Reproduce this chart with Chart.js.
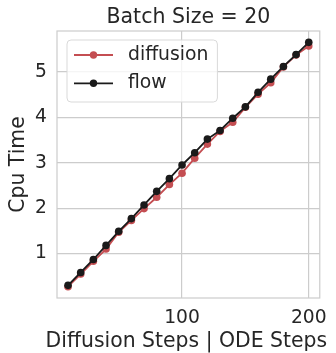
<!DOCTYPE html>
<html>
<head>
<meta charset="utf-8">
<script src="https://cdn.jsdelivr.net/npm/chart.js@4"></script>
<style>
html,body{margin:0;padding:0;background:#fff;}
#wrap{width:336px;height:353px;}
</style>
</head>
<body>
<div id="wrap"><canvas id="c" width="336" height="353"></canvas></div>
<script>
const steps = [10,20,30,40,50,60,70,80,90,100,110,120,130,140,150,160,170,180,190,200];
const diffusion = [0.27,0.55,0.83,1.10,1.47,1.73,1.99,2.24,2.52,2.77,3.10,3.41,3.69,3.89,4.22,4.51,4.76,5.11,5.37,5.57];
const flow = [0.30,0.585,0.87,1.18,1.49,1.77,2.07,2.37,2.65,2.95,3.22,3.52,3.71,3.98,4.23,4.55,4.84,5.12,5.38,5.65];
const xTicks = [100, 200];
const yTicks = [1, 2, 3, 4, 5];
const seriesNames = ['diffusion', 'flow'];
const seriesColors = ['#c44e52', '#1a1a1a'];
const titleText = 'Batch Size = 20';
const xLabel = 'Diffusion Steps | ODE Steps';
const yLabel = 'Cpu Time';

const TEXT = '#262626';
const GRID = '#cccccc';
const FAMILY = "'DejaVu Sans', sans-serif";
Chart.defaults.font.family = FAMILY;
Chart.defaults.color = TEXT;

const frame = {
  id: 'frame',
  afterDatasetsDraw(chart) {
    const {ctx, chartArea: a} = chart;
    ctx.save();
    ctx.strokeStyle = GRID;
    ctx.lineWidth = 1.2;
    ctx.strokeRect(a.left, a.top, a.right - a.left, a.bottom - a.top);
    ctx.restore();
  }
};

const texts = {
  id: 'texts',
  afterDraw(chart) {
    const {ctx, chartArea: a} = chart;
    const cx = (a.left + a.right) / 2;
    ctx.save();
    ctx.fillStyle = TEXT;
    ctx.textAlign = 'center';
    ctx.textBaseline = 'alphabetic';
    ctx.font = "20.5px " + FAMILY;
    ctx.fillText(titleText, cx, a.top - 8.5);
    ctx.font = "20.4px " + FAMILY;
    ctx.fillText(xLabel, cx - 2, a.bottom + 48.5);
    ctx.restore();
  }
};

const innerLegend = {
  id: 'innerLegend',
  afterDraw(chart) {
    const {ctx, chartArea: a} = chart;
    const ds = chart.data.datasets;
    ctx.save();
    ctx.font = "18.8px " + FAMILY;
    let tw = 0;
    ds.forEach(d => { tw = Math.max(tw, ctx.measureText(d.label).width); });
    const x0 = a.left + 10, y0 = a.top + 9;
    const w = 61 + tw + 9, h = 62;
    ctx.beginPath();
    ctx.roundRect(x0, y0, w, h, 4);
    ctx.fillStyle = 'rgba(255,255,255,0.8)';
    ctx.fill();
    ctx.strokeStyle = '#d9d9d9';
    ctx.lineWidth = 1;
    ctx.stroke();
    ds.forEach((d, i) => {
      const cy = y0 + 15 + i * 28.3;
      const lx = x0 + 7;
      ctx.strokeStyle = d.borderColor;
      ctx.lineWidth = 1.8;
      ctx.beginPath();
      ctx.moveTo(lx, cy);
      ctx.lineTo(lx + 39, cy);
      ctx.stroke();
      ctx.fillStyle = d.borderColor;
      ctx.beginPath();
      ctx.arc(lx + 19.5, cy, 3.7, 0, Math.PI * 2);
      ctx.fill();
      ctx.fillStyle = TEXT;
      ctx.textBaseline = 'middle';
      ctx.textAlign = 'left';
      ctx.fillText(d.label, x0 + 61, cy);
    });
    ctx.restore();
  }
};

const mk = (name, vals, color, order) => ({
  label: name,
  data: steps.map((s, i) => ({x: s, y: vals[i]})),
  borderColor: color,
  backgroundColor: color,
  borderWidth: 1.8,
  pointRadius: 3.8,
  pointBorderWidth: 0,
  pointHoverRadius: 3.8,
  tension: 0,
  order: order
});

new Chart(document.getElementById('c'), {
  type: 'line',
  data: {
    datasets: [
      mk(seriesNames[0], diffusion, seriesColors[0], 1),
      mk(seriesNames[1], flow, seriesColors[1], 0)
    ]
  },
  plugins: [frame, innerLegend, texts],
  options: {
    responsive: false,
    animation: false,
    events: [],
    layout: {padding: {top: 31, right: 10, left: 0, bottom: 0}},
    plugins: {
      legend: {display: false},
      tooltip: {enabled: false},
      title: {display: false}
    },
    scales: {
      x: {
        type: 'linear',
        min: 1.3,
        max: 208.7,
        afterBuildTicks: s => { s.ticks = xTicks.map(v => ({value: v})); },
        afterFit: s => { s.height = 55; },
        grid: {color: GRID, lineWidth: 1.2, drawTicks: false},
        border: {display: false},
        ticks: {font: {size: 18.7}, padding: 9, color: TEXT, maxRotation: 0},
        title: {display: false}
      },
      y: {
        type: 'linear',
        min: 0.022,
        max: 5.9,
        afterBuildTicks: s => { s.ticks = yTicks.map(v => ({value: v})); },
        afterFit: s => { s.width = 57; },
        grid: {color: GRID, lineWidth: 1.2, drawTicks: false},
        border: {display: false},
        ticks: {font: {size: 18.7}, padding: 10, color: TEXT},
        title: {display: true, text: yLabel, color: TEXT, font: {size: 20.4}, padding: {top: 6, bottom: 0}}
      }
    }
  }
});
</script>
</body>
</html>
